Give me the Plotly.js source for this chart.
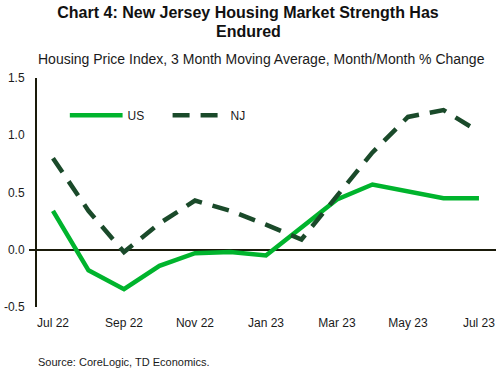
<!DOCTYPE html>
<html>
<head>
<meta charset="utf-8">
<script src="https://cdn.plot.ly/plotly-3.0.1.min.js"></script>
<style>
  html, body { margin: 0; padding: 0; background: #ffffff; }
  #chart { width: 496px; height: 370px; }
</style>
</head>
<body>
<div id="chart"></div>
<script>
// Data
var months = ["Jul 22", "Aug 22", "Sep 22", "Oct 22", "Nov 22", "Dec 22", "Jan 23",
              "Feb 23", "Mar 23", "Apr 23", "May 23", "Jun 23", "Jul 23"];
var usValues = [0.34, -0.18, -0.345, -0.14, -0.03, -0.02, -0.05, 0.19, 0.44, 0.57, 0.51, 0.45, 0.45];
var njValues = [0.80, 0.34, -0.02, 0.23, 0.43, 0.34, 0.22, 0.09, 0.47, 0.85, 1.16, 1.22, 1.03];
var xTickLabels = ["Jul 22", "Sep 22", "Nov 22", "Jan 23", "Mar 23", "May 23", "Jul 23"];
var yTickValues = [-0.5, 0.0, 0.5, 1.0, 1.5];
var yTickLabels = ["-0.5", "0.0", "0.5", "1.0", "1.5"];

var usColor = "#00B42D";
var njColor = "#1A4A2A";
var textColor = "#1a1a1a";
var axisColor = "#1a1a0a";
var titleFont = { family: "Liberation Sans, Arial, sans-serif", size: 16, color: "#111111" };

var traces = [
  {
    x: months, y: usValues, name: "US", type: "scatter", mode: "lines",
    line: { color: usColor, width: 4.5 }
  },
  {
    x: months, y: njValues, name: "NJ", type: "scatter", mode: "lines",
    line: { color: njColor, width: 4.5, dash: "17px,11px" }
  }
];

var layout = {
  width: 496, height: 370,
  margin: { l: 37, r: 0, t: 78, b: 63 },
  paper_bgcolor: "#ffffff",
  plot_bgcolor: "#ffffff",
  font: { family: "Liberation Sans, Arial, sans-serif", size: 12, color: textColor },
  title: {
    text: "<b>Chart 4: New Jersey Housing Market Strength Has</b>",
    font: titleFont,
    x: 0.5, xanchor: "center", xref: "container",
    y: 1 - 12.8 / 370, yanchor: "middle", yref: "container"
  },
  showlegend: true,
  legend: {
    orientation: "h",
    x: 0.071, xanchor: "left",
    y: 0.8375, yanchor: "middle",
    bgcolor: "rgba(0,0,0,0)",
    font: { size: 12, color: textColor },
    itemwidth: 48,
    entrywidth: 40,
    entrywidthmode: "pixels",
    tracegroupgap: 0
  },
  xaxis: {
    type: "category",
    range: [-0.45, 12.48],
    tickmode: "array",
    tickvals: xTickLabels,
    ticktext: xTickLabels,
    showgrid: false,
    showline: false,
    zeroline: false,
    ticks: "",
    ticklabelstandoff: 7,
    tickfont: { size: 12, color: textColor },
    fixedrange: true
  },
  yaxis: {
    range: [-0.5, 1.5],
    tickmode: "array",
    tickvals: yTickValues,
    ticktext: yTickLabels,
    showgrid: false,
    showline: true,
    linecolor: axisColor,
    linewidth: 2,
    zeroline: true,
    zerolinecolor: axisColor,
    zerolinewidth: 2,
    ticks: "",
    ticklabelstandoff: 8,
    tickfont: { size: 12, color: textColor },
    minor: {
      tickmode: "array",
      tickvals: [0],
      ticks: "outside",
      ticklen: 6,
      tickwidth: 2,
      tickcolor: axisColor,
      showgrid: false
    },
    fixedrange: true
  },
  annotations: [
    {
      text: "<b>Endured</b>",
      xref: "paper", yref: "paper", x: (248 - 37) / 459, y: 1 + (78 - 31.3) / 229,
      xanchor: "center", yanchor: "middle",
      showarrow: false, font: titleFont
    },
    {
      text: "Housing Price Index, 3 Month Moving Average, Month/Month % Change",
      xref: "paper", yref: "paper", x: -0.002, y: 1.083, xanchor: "left", yanchor: "middle",
      showarrow: false, font: { size: 14, color: textColor }
    },
    {
      text: "Source: CoreLogic, TD Economics.",
      xref: "paper", yref: "paper", x: -0.002, y: -0.24, xanchor: "left", yanchor: "middle",
      showarrow: false, font: { size: 11, color: textColor }
    }
  ]
};

Plotly.newPlot("chart", traces, layout, { staticPlot: true, displayModeBar: false }).then(function (gd) {
  // lengthen legend line samples to match the reference
  var paths = gd.querySelectorAll(".legend .legendlines path");
  paths.forEach(function (p) { p.setAttribute("d", "M0,0h53"); });
});
</script>
</body>
</html>
